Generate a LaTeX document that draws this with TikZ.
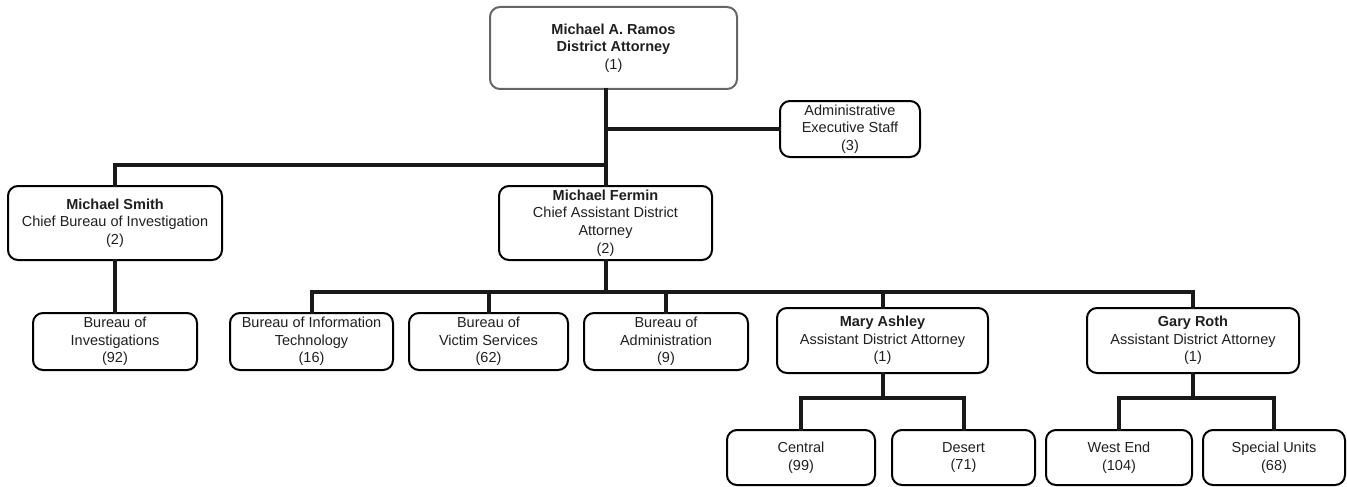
\documentclass[tikz,border=0pt]{standalone}
\usepackage{fontspec}
\setmainfont{Liberation Sans}
\begin{document}
\begin{tikzpicture}[x=1pt,y=-1pt,
  box/.style={draw=black, line width=2pt, rounded corners=10pt, inner sep=0pt,
    align=center, font=\fontsize{14.5}{17.6}\selectfont, text=black!88},
  topbox/.style={box, draw=black!60},
  conn/.style={line width=4pt, draw=black!90, line cap=rect}]
\useasboundingbox (0,0) rectangle (1347,487);
% nodes
\node[topbox, minimum width=247pt, minimum height=82pt] (ramos) at (613.5,48)
  {\textbf{Michael A. Ramos}\\\textbf{District Attorney}\\(1)};
\node[box, minimum width=140pt, minimum height=56pt] (admin) at (850,129)
  {Administrative\\Executive Staff\\(3)};
\node[box, minimum width=214pt, minimum height=74pt] (smith) at (115,223)
  {\textbf{Michael Smith}\\Chief Bureau of Investigation\\(2)};
\node[box, minimum width=213pt, minimum height=74pt] (fermin) at (605.5,223)
  {\textbf{Michael Fermin}\\Chief Assistant District\\Attorney\\(2)};
\node[box, minimum width=164pt, minimum height=57pt] (boi) at (115,341.5)
  {Bureau of\\Investigations\\(92)};
\node[box, minimum width=163pt, minimum height=57pt] (bit) at (311.5,341.5)
  {Bureau of Information\\Technology\\(16)};
\node[box, minimum width=159pt, minimum height=57pt] (bvs) at (488.5,341.5)
  {Bureau of\\Victim Services\\(62)};
\node[box, minimum width=164pt, minimum height=57pt] (badm) at (666,341.5)
  {Bureau of\\Administration\\(9)};
\node[box, minimum width=211pt, minimum height=65pt] (mary) at (882.5,340.5)
  {\textbf{Mary Ashley}\\Assistant District Attorney\\(1)};
\node[box, minimum width=212pt, minimum height=65pt] (gary) at (1193,340.5)
  {\textbf{Gary Roth}\\Assistant District Attorney\\(1)};
\node[box, minimum width=148pt, minimum height=55pt] (central) at (801,457.5)
  {Central\\(99)};
\node[box, minimum width=143pt, minimum height=55pt] (desert) at (963.5,457.5)
  {Desert\\(71)};
\node[box, minimum width=146pt, minimum height=55pt] (westend) at (1119,457.5)
  {West End\\(104)};
\node[box, minimum width=142pt, minimum height=55pt] (special) at (1274,457.5)
  {Special Units\\(68)};
% connectors
\coordinate (trunk) at (605.5,0);
\coordinate (adminj) at (605.5,129);
\coordinate (leftj) at (605.5,165);
\coordinate (fbus) at (605.5,292);
\coordinate (mbus) at (882.5,398);
\coordinate (gbus) at (1193,398);
\begin{scope}[on background layer/.try]
\draw[conn] (ramos.south -| trunk) -- (fermin.north);
\draw[conn] (adminj) -- (admin.west);
\draw[conn] (leftj) -| (smith.north);
\draw[conn] (smith.south) -- (boi.north);
\draw[conn] (fermin.south) -- (fbus);
\draw[conn] (bit.north) |- (fbus) -| (gary.north);
\draw[conn] (bvs.north) -- (bvs.north |- fbus);
\draw[conn] (badm.north) -- (badm.north |- fbus);
\draw[conn] (mary.north) -- (mary.north |- fbus);
\draw[conn] (mary.south) -- (mbus);
\draw[conn] (central.north) |- (mbus) -| (desert.north);
\draw[conn] (gary.south) -- (gbus);
\draw[conn] (westend.north) |- (gbus) -| (special.north);
\end{scope}
\end{tikzpicture}
\end{document}
